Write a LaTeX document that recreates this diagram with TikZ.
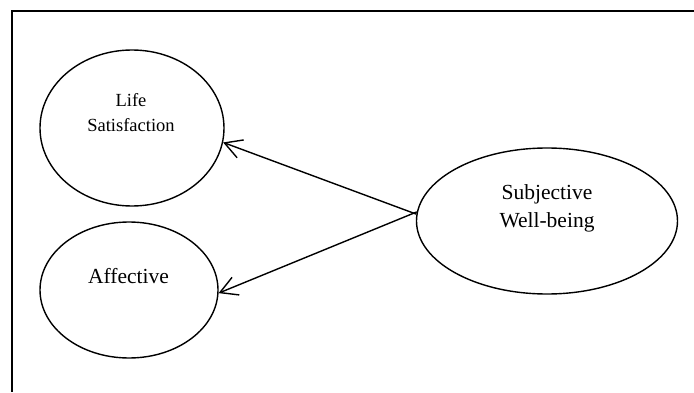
\documentclass[tikz,border=0pt]{standalone}
\usepackage{fontspec}
\setmainfont{Liberation Serif}
\usetikzlibrary{shapes.geometric,arrows.meta,positioning,calc}

\begin{document}
\begin{tikzpicture}[x=1pt,y=1pt,>={Straight Barb[length=17pt,width=19pt]},
    construct/.style={draw,ellipse,line width=1.4pt,inner sep=0pt},
    caption/.style={align=center,inner sep=0pt}]
    \useasboundingbox (0,0) rectangle (694,392);

    % frame, open at the right and at the bottom
    \coordinate (fr) at (694,381);
    \coordinate (fc) at (12,381);
    \coordinate (fb) at (12,0);
    \draw[line width=2pt] (fr) -- (fc) -- (fb);

    % the three constructs
    \node[construct,minimum width=184pt,minimum height=156pt] (ls)  at (132,264) {};
    \node[construct,minimum width=178pt,minimum height=136pt] (aff) at (129,102) {};
    \node[construct,minimum width=261pt,minimum height=146pt] (swb) at (547,171) {};

    % texts, set a bit above the centres
    \node[caption,font=\fontsize{18.5}{25}\selectfont] (lstext)  at (131,279) {Life\\Satisfaction};
    \node[caption,font=\fontsize{21.5}{28}\selectfont] (afftext) at (128.5,116) {Affective};
    \node[caption,font=\fontsize{21.5}{28}\selectfont] (swbtext) at (547,184) {Subjective\\Well-being};

    % paths from the higher-order factor
    \draw[->,line width=1.4pt] (swb.177) -- (ls.-9);
    \draw[->,line width=1.4pt] (swb.176) -- (aff.-2);
\end{tikzpicture}
\end{document}
